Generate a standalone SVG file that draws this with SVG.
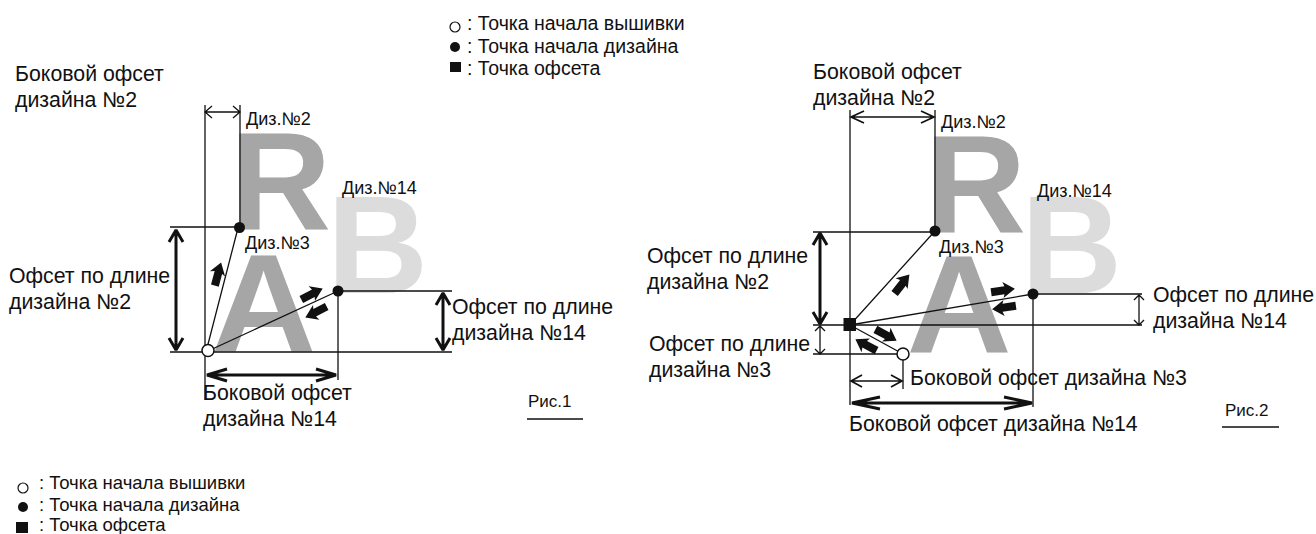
<svg xmlns="http://www.w3.org/2000/svg" width="1316" height="534" viewBox="0 0 1316 534">
<style>
text{font-family:"Liberation Sans",Arial,sans-serif;fill:#111}
.t{font-size:21.3px}
.s{font-size:18px}
.r{font-size:17px}
.l{font-size:19.5px}
.k{font-size:18.5px}
.big{font-size:140px;font-weight:700}
.g{fill:#a6a6a6}
.lg{fill:#dcdcdc}
.n{fill:none;stroke:#111;stroke-width:1.3}
.m{fill:none;stroke:#111;stroke-width:1.7}
.h{fill:none;stroke:#111;stroke-width:3;stroke-linejoin:bevel}
.b{fill:#111;stroke:none}
.o{fill:#fff;stroke:#111;stroke-width:1.5}
</style>
<defs>
<path id="fa" d="M-12,-4 L2,-4 L0.500,-8.500 L12,0 L-0.500,7.500 L1,4 L-12,4Z" class="b"/>
</defs>
<rect width="1316" height="534" fill="#fff"/>
<g id="letters">
<text class="big g" x="230" y="229">R</text>
<text class="big lg" x="327" y="293">B</text>
<text class="big g" transform="translate(211 352) scale(1.04 1)" x="0" y="0">A</text>
<text class="big g" x="925" y="232">R</text>
<text class="big lg" x="1021" y="293">B</text>
<text class="big g" transform="translate(906.500 353) scale(1.04 1)" x="0" y="0">A</text>
</g>
<g id="connectors">
<path class="n" d="M205,105V400M240,105V228M170,227H240M338,291V380M338,291H452M170,352H452"/>
<path class="n" d="M206,352L238,228M208,351L338,291"/>
<path class="n" d="M205,112H240M212,106L205,112L212,118M233,106L240,112L233,118"/>
<path class="h" d="M176,230V350M169,242L176,230L183,242M169,338L176,350L183,338"/>
<path class="h" d="M443,293V350M436,305L443,293L450,305M436,338L443,350L450,338"/>
<path class="h" d="M207,375H336M227,369L207,375L227,381M316,369L336,375L316,381"/>
<use href="#fa" transform="translate(218,274) rotate(-75)"/>
<use href="#fa" transform="translate(312,294) rotate(-27)"/>
<use href="#fa" transform="translate(316,312) rotate(153)"/>

<path class="n" d="M850,110V405M935,110V231M813,232H935M1033,294V407M1033,294H1142M813,325H1142M813,354H903M903,354V389"/>
<path class="n" d="M850,325L935,231M850,325L1033,294M850,325L903,354"/>
<path class="m" d="M851,117H934M864,111L851,117L864,123M921,111L934,117L921,123"/>
<path class="h" d="M820,233V324M813,245L820,233L827,245M813,312L820,324L827,312"/>
<path class="n" d="M820,326V354M815,331L820,326L825,331M815,349L820,354L825,349"/>
<path class="n" d="M1139,295V325M1134,300L1139,295L1144,300M1134,320L1139,325L1144,320"/>
<path class="m" d="M851,381H902M862,375L851,381L862,387M891,375L902,381L891,387"/>
<path class="h" d="M852,403H1032M880,397L852,403L880,409M1004,397L1032,403L1004,409"/>
<use href="#fa" transform="translate(902,284) rotate(-52)"/>
<use href="#fa" transform="translate(1003,290.500) rotate(-8)"/>
<use href="#fa" transform="translate(1004,307.500) rotate(172)"/>
<use href="#fa" transform="translate(886,335) rotate(28)"/>
<use href="#fa" transform="translate(866,345) rotate(208)"/>
<path class="n" d="M527,419H583M1222,427H1279"/>
</g>
<g id="node-fig1-points">
<circle class="b" cx="239.500" cy="227.500" r="5.500"/>
<circle class="b" cx="338" cy="291" r="5.500"/>
<circle class="o" cx="208" cy="350.500" r="6"/>
</g>
<g id="node-fig2-points">
<circle class="b" cx="935" cy="231" r="5.500"/>
<circle class="b" cx="1033" cy="294" r="5.500"/>
<rect class="b" x="843.500" y="318" width="12.500" height="13"/>
<circle class="o" cx="903" cy="354" r="6"/>
</g>
<g id="node-legend-top">
<circle cx="455" cy="27" r="5" fill="#fff" stroke="#111" stroke-width="1.200"/>
<circle class="b" cx="455" cy="47" r="5"/>
<rect class="b" x="450" y="62" width="11" height="10"/>
<text class="l" x="467" y="30">: Точка начала вышивки</text>
<text class="l" x="467" y="53">: Точка начала дизайна</text>
<text class="l" x="467" y="75">: Точка офсета</text>
</g>
<g id="node-legend-bottom">
<circle cx="23" cy="488" r="5" fill="#fff" stroke="#111" stroke-width="1.200"/>
<circle class="b" cx="23" cy="507" r="5"/>
<rect class="b" x="16" y="522" width="12" height="11"/>
<text class="k" x="39" y="489">: Точка начала вышивки</text>
<text class="k" x="39" y="511">: Точка начала дизайна</text>
<text class="k" x="39" y="531">: Точка офсета</text>
</g>
<g id="node-labels-1">
<text class="t" x="15" y="81">Боковой офсет</text>
<text class="t" x="15" y="107">дизайна №2</text>
<text class="s" x="246" y="125">Диз.№2</text>
<text class="s" x="342" y="194">Диз.№14</text>
<text class="s" x="245" y="249">Диз.№3</text>
<text class="t" x="9" y="283">Офсет по длине</text>
<text class="t" x="9" y="309">дизайна №2</text>
<text class="t" x="452" y="314">Офсет по длине</text>
<text class="t" x="452" y="340">дизайна №14</text>
<text class="t" x="203" y="400">Боковой офсет</text>
<text class="t" x="203" y="426">дизайна №14</text>
<text class="r" x="528" y="407">Рис.1</text>
</g>
<g id="node-labels-2">
<text class="t" x="813" y="79">Боковой офсет</text>
<text class="t" x="813" y="105">дизайна №2</text>
<text class="s" x="941" y="128">Диз.№2</text>
<text class="s" x="1037" y="197">Диз.№14</text>
<text class="s" x="939" y="253">Диз.№3</text>
<text class="t" x="647" y="263">Офсет по длине</text>
<text class="t" x="647" y="289">дизайна №2</text>
<text class="t" x="649" y="351">Офсет по длине</text>
<text class="t" x="649" y="377">дизайна №3</text>
<text class="t" x="1153" y="302">Офсет по длине</text>
<text class="t" x="1153" y="328">дизайна №14</text>
<text class="t" x="910" y="385">Боковой офсет дизайна №3</text>
<text class="t" x="849" y="431">Боковой офсет дизайна №14</text>
<text class="r" x="1225" y="416">Рис.2</text>
</g>
</svg>
